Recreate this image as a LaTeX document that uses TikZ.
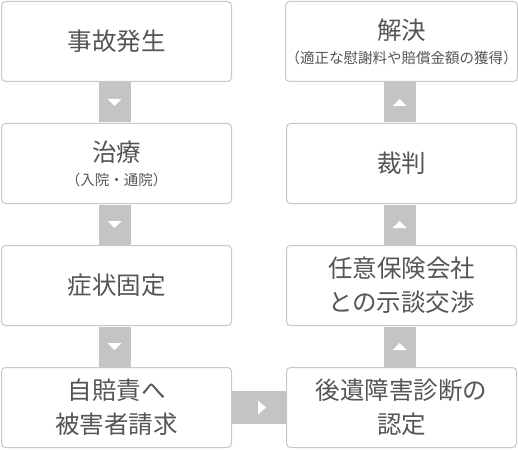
\documentclass[tikz,border=0pt]{standalone}
\usepackage{fontspec}
\newfontfamily\jpfont{Noto Sans CJK JP}
\usetikzlibrary{calc}
\definecolor{boxline}{HTML}{C8C8C8}
\definecolor{linkgray}{HTML}{C4C4C4}
\definecolor{txtgray}{HTML}{555555}
\newcommand{\bigjp}{\fontsize{24.5}{34}\selectfont}
\newcommand{\smalljp}{\fontsize{14.5}{16}\selectfont}
\begin{document}
\begin{tikzpicture}[x=1pt,y=-1pt,
  box/.style={draw=boxline,line width=1pt,rounded corners=4pt,fill=white,
    minimum width=230pt,minimum height=80pt,inner sep=0pt,align=center,
    text=txtgray,font=\jpfont\bigjp},
  link/.style={fill=linkgray},
  tip/.style={fill=white}]
\useasboundingbox (0,0) rectangle (518,449);
% left column
\node[box] (acc) at (116.5,41.5){事故発生};
\node[box] (cure) at (116.5,163.5){治療\\[-10pt]{\smalljp （入院・通院）}};
\node[box] (fix) at (116.5,285.5){症状固定};
\node[box] (jibai) at (116.5,407.5){自賠責へ\\被害者請求};
% right column
\node[box] (cert) at (401.5,407.5){後遺障害診断の\\認定};
\node[box] (nego) at (401.5,285.5){任意保険会社\\との示談交渉};
\node[box] (trial) at (401.5,163.5){裁判};
\node[box] (done) at (401.5,41.5){解決\\[-10pt]{\smalljp （適正な慰謝料や賠償金額の獲得）}};
% vertical links, tip pointing down on the left, up on the right
\foreach \a/\b/\d in {acc/cure/1,cure/fix/1,fix/jibai/1,done/trial/-1,trial/nego/-1,nego/cert/-1}{
  \fill[link] ([xshift=-18pt,yshift=-0.5pt]\a.south) rectangle ([xshift=14pt,yshift=0.5pt]\b.north);
  \coordinate (m) at ($(\a.south)!0.5!(\b.north)+(-2,0)$);
  \fill[tip] ($(m)+(-7,-3.5*\d)$) -- ($(m)+(7,-3.5*\d)$) -- ($(m)+(0,3.5*\d)$) -- cycle;
}
% horizontal link
\fill[link] ([yshift=-16.5pt,xshift=-0.5pt]jibai.east) rectangle ([yshift=16.5pt,xshift=0.5pt]cert.west);
\coordinate (h) at ($(jibai.east)!0.5!(cert.west)+(3,0)$);
\fill[tip] ($(h)+(-4,-7)$) -- ($(h)+(4,0)$) -- ($(h)+(-4,7)$) -- cycle;
\end{tikzpicture}
\end{document}
